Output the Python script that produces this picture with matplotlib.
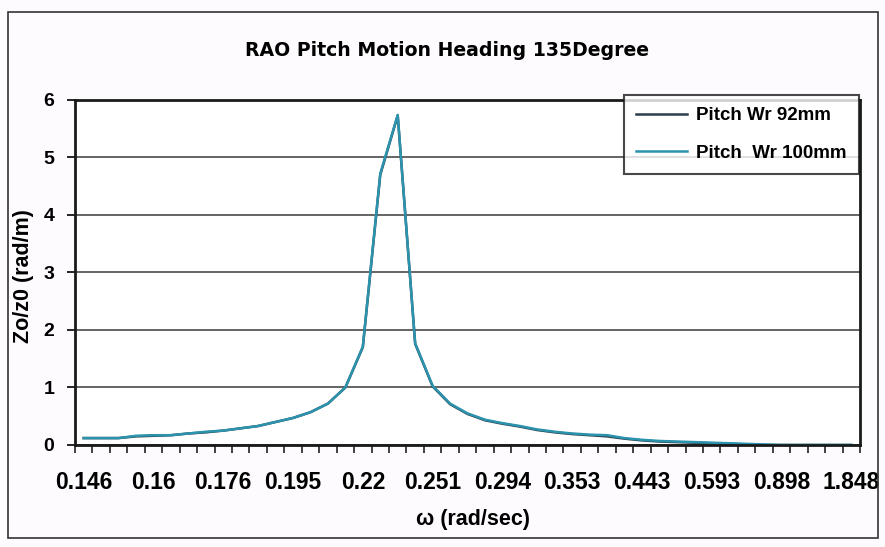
import matplotlib
matplotlib.use('Agg')
import matplotlib.pyplot as plt
from matplotlib.patches import Rectangle
import numpy as np

# wave frequency categories (rad/sec)
omega = [0.146, 0.149, 0.153, 0.156, 0.16, 0.163, 0.167, 0.171, 0.176, 0.18,
         0.185, 0.19, 0.195, 0.201, 0.207, 0.213, 0.22, 0.227, 0.234, 0.243,
         0.251, 0.261, 0.271, 0.282, 0.294, 0.306, 0.321, 0.336, 0.353, 0.372,
         0.393, 0.416, 0.443, 0.472, 0.507, 0.546, 0.593, 0.648, 0.714, 0.795,
         0.898, 1.03, 1.208, 1.461, 1.848]

pitch_92 = [0.12, 0.12, 0.12, 0.15, 0.16, 0.17, 0.20, 0.22, 0.25, 0.29,
            0.33, 0.40, 0.47, 0.57, 0.72, 1.00, 1.70, 4.70, 5.73, 1.76,
            1.02, 0.71, 0.54, 0.43, 0.37, 0.32, 0.26, 0.22, 0.19, 0.17,
            0.15, 0.11, 0.08, 0.06, 0.05, 0.04, 0.03, 0.02, 0.01, 0.0,
            0.0, 0.0, 0.0, 0.0, 0.0]

pitch_100 = [0.12, 0.12, 0.12, 0.16, 0.17, 0.17, 0.20, 0.23, 0.25, 0.29,
             0.33, 0.40, 0.47, 0.57, 0.72, 1.00, 1.71, 4.72, 5.74, 1.77,
             1.03, 0.72, 0.55, 0.44, 0.38, 0.33, 0.27, 0.23, 0.20, 0.18,
             0.17, 0.12, 0.09, 0.07, 0.06, 0.05, 0.04, 0.03, 0.02, 0.01,
             0.0, 0.0, 0.0, 0.0, 0.0]

label_every = 4

plt.rcParams['font.family'] = ['Liberation Sans', 'DejaVu Sans']

fig = plt.figure(figsize=(8.85, 5.47), dpi=100)
fig.patch.set_facecolor('#fdfbfd')
ax = fig.add_axes([0.0847, 0.1865, 0.8871, 0.6307])
ax.set_facecolor('white')

x = np.arange(len(omega))
ax.plot(x, pitch_92, color='#2c3e4a', linewidth=1.8, label='Pitch Wr 92mm', zorder=2)
ax.plot(x, pitch_100, color='#2b93ad', linewidth=1.8, label='Pitch  Wr 100mm', zorder=2)

ax.set_xlim(-0.5, len(omega) - 0.5)
ax.set_ylim(0, 6)
ax.set_yticks(range(0, 7))
ax.yaxis.grid(True, color='#3a3a3a', linewidth=1.1)
ax.set_axisbelow(True)

ax.set_xticks(x[::label_every])
ax.set_xticklabels([str(v) for v in omega[::label_every]])
ax.set_xticks(np.arange(-0.5, len(omega)), minor=True)
ax.tick_params(axis='x', which='major', length=0, pad=19, labelsize=16.5)
ax.tick_params(axis='x', which='minor', length=6, width=1.2, color='#222222')
ax.tick_params(axis='y', length=6, width=1.2, labelsize=14, pad=9)
for lab in ax.get_xticklabels() + ax.get_yticklabels():
    lab.set_fontweight('bold')

for s in ax.spines.values():
    s.set_linewidth(2)
    s.set_color('#1a1a1a')
    s.set_zorder(3)

ax.set_xlabel('ω (rad/sec)', fontsize=15.5, fontweight='bold')
ax.xaxis.set_label_coords(0.507, -0.185)
ax.set_ylabel('Zo/z0 (rad/m)', fontsize=15.5, fontweight='bold')
ax.yaxis.set_label_coords(-0.052, 0.49)
fig.text(0.505, 1 - 50 / 547, 'RAO Pitch Motion Heading 135Degree', fontsize=13.6,
         fontweight='bold', family='DejaVu Sans', ha='center', va='center')

leg = ax.legend(loc='upper right', bbox_to_anchor=(0.9987, 1.0145), borderaxespad=0,
                fontsize=13.5, frameon=True, fancybox=False, borderpad=0.65,
                handlelength=2.7, labelspacing=1.1, handletextpad=0.5)
leg.get_frame().set_edgecolor('#1a1a1a')
leg.get_frame().set_linewidth(1.5)
for t in leg.get_texts():
    t.set_fontweight('bold')

# outer chart border
fig.patches.append(Rectangle((0.009, 0.016), 0.983, 0.962, transform=fig.transFigure,
                             fill=False, edgecolor='#333333', linewidth=1.2))

fig.savefig('out.png', dpi=100, facecolor=fig.get_facecolor())
